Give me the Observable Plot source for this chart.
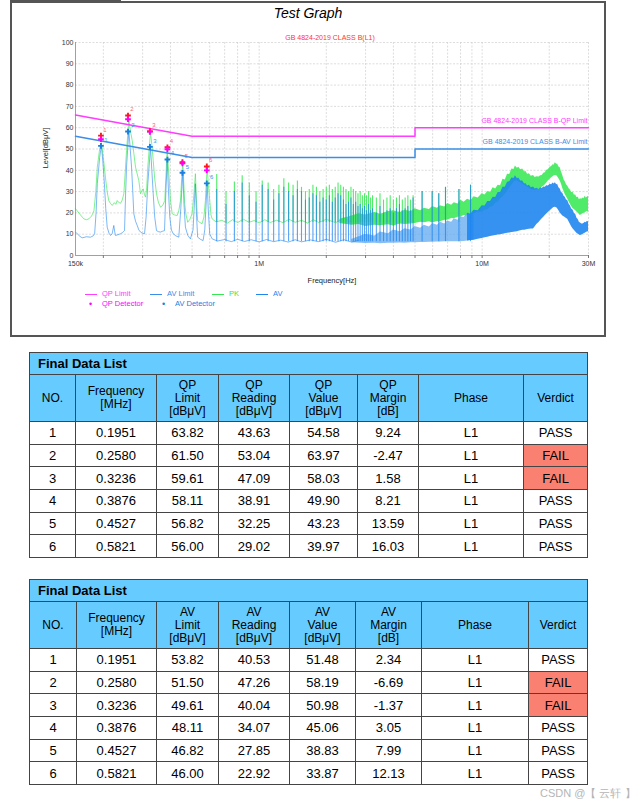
<!DOCTYPE html>
<html><head><meta charset="utf-8">
<script src="https://cdn.jsdelivr.net/npm/d3@7"></script>
<script src="https://cdn.jsdelivr.net/npm/@observablehq/plot@0.6"></script>
<style>
body{margin:0;background:#fff;font-family:Arial,"Liberation Sans",sans-serif;}
#page{position:relative;width:635px;height:805px;overflow:hidden;background:#fff;}
#tab{position:absolute;left:10px;top:-13px;width:111px;height:14px;border:1px solid #555;font-size:12px;line-height:14px;padding-left:6px;box-sizing:border-box;}
#frame{position:absolute;left:10px;top:1px;width:596px;height:336px;border:2px solid #555;box-sizing:border-box;}
#chart{position:absolute;left:0;top:0;}
.t{position:absolute;white-space:nowrap;}
.lg{position:absolute;font-size:7.5px;line-height:8px;white-space:nowrap;}
.ln{position:absolute;height:0;width:12px;border-top:1.2px solid;}
.dt{position:absolute;font-size:9px;line-height:8px;}
table.fd{position:absolute;left:29px;border-collapse:collapse;table-layout:fixed;width:558px;font-family:Arial,"Liberation Sans",sans-serif;color:#000;}
table.fd td{border:1px solid #444;text-align:center;padding:0;}
table.fd tr.ttl td{background:#66ccff;font-weight:bold;text-align:left;padding-left:8px;height:21px;font-size:13px;}
table.fd tr.hdr td{background:#66ccff;height:46px;font-size:12px;line-height:13px;}
table.fd tr.row td{height:21.7px;font-size:13px;}
table.fd td.fail{background:#fa8072;}
#wm{position:absolute;left:540px;top:786px;font-size:11px;color:#b5b5b5;white-space:nowrap;}
</style></head>
<body>
<div id="page">
  <div id="tab">Test Standard</div>
  <div id="frame"></div>
  <div id="chart"></div>
  <div class="t" style="left:0;width:616px;top:5px;text-align:center;font-size:14px;line-height:16px;font-style:italic;">Test Graph</div>
  <div class="t" style="left:230px;width:200px;top:34px;text-align:center;font-size:7px;line-height:8px;color:#ff3333;">GB 4824-2019 CLASS B(L1)</div>
  <div class="t" style="left:46px;top:148px;font-size:7.5px;line-height:8px;transform:translate(-50%,-50%) rotate(-90deg);color:#222;">Level[dBμV]</div>
  <div class="t" style="left:282px;width:100px;top:277px;text-align:center;font-size:7.5px;line-height:8px;color:#222;">Frequency[Hz]</div>
  <div id="legend"></div>
  <div id="tables"></div>
  <div id="wm">CSDN @【 云轩 】</div>
</div>
<script>
// ---------- chart data ----------
const yTicks = [0, 10, 20, 30, 40, 50, 60, 70, 80, 90, 100];
const xTickValues = [0.15, 1, 10, 30];
const xTickLabels = ["150k", "1M", "10M", "30M"];
const gridFreqs = [0.2, 0.3, 0.4, 0.5, 0.6, 0.7, 0.8, 0.9, 1, 2, 3, 4, 5, 6, 7, 8, 9, 10, 20, 30];

const limitFreq = [0.15, 0.5, 5, 5, 30];
const qpLimitLine = [66, 56, 56, 60, 60];
const avLimitLine = [56, 46, 46, 50, 50];
const qpLimitName = "GB 4824-2019 CLASS B-QP Limit";
const avLimitName = "GB 4824-2019 CLASS B-AV Limit";

const detNo = [1, 2, 3, 4, 5, 6];
const detFreq = [0.1951, 0.2580, 0.3236, 0.3876, 0.4527, 0.5821];
const pkMarker = [56.3, 65.7, 58.4, 50.8, 43.8, 41.8];

// PK (green) trace, low band  [MHz, dBuV]
const pkLow = [[0.150,22],[0.1526,21],[0.158,19],[0.1634,17.2],[0.168,16.8],[0.1722,17.2],[0.177,18.5],[0.1815,21],[0.185,30],[0.1879,41.5],[0.1925,50],[0.196,53],[0.200,46],[0.2043,36.8],[0.208,30],[0.2115,25.8],[0.215,24.5],[0.2192,23.5],[0.224,24.8],[0.2275,24],[0.2307,25.8],[0.234,25],[0.2388,24.5],[0.243,26],[0.2471,29],[0.251,40],[0.2541,49.3],[0.2602,63.5],[0.265,58],[0.2695,54],[0.274,48],[0.2788,41.5],[0.2885,35.2],[0.2936,29],[0.298,30.5],[0.3019,31.3],[0.306,28.5],[0.3092,27.4],[0.313,32],[0.3166,41.5],[0.3255,58],[0.330,52],[0.3347,44.6],[0.340,36],[0.3463,29],[0.353,25],[0.3609,22.7],[0.369,23.5],[0.3773,25.8],[0.382,38],[0.3867,50],[0.391,42],[0.396,33.7],[0.400,26],[0.4072,19.6],[0.418,19],[0.4289,18.8],[0.436,21],[0.4436,25.8],[0.449,36],[0.4543,43.8],[0.459,34],[0.4635,24.3],[0.470,19],[0.4779,15.6],[0.489,17],[0.5001,19.6],[0.509,28],[0.5175,38.4],[0.523,26],[0.5296,16.4],[0.542,15.5],[0.5545,14.9],[0.565,18],[0.5738,25.8],[0.5841,41.5],[0.592,33],[0.600,25.8],[0.608,19],[0.6151,17.2],[0.64,15.8],[0.68,16.5],[0.72,15.2],[0.76,16.8],[0.80,15.5],[0.85,17],[0.90,15.6],[0.95,16.4],[1.0,15.3],[1.06,16.8],[1.12,15.5],[1.2,16.6],[1.28,15.4],[1.36,17],[1.45,15.6],[1.55,16.5],[1.65,15.2],[1.75,16.8],[1.85,15.5],[2.0,17],[2.2,15.4],[2.4,17.5],[2.6,15.6]];

// AV (blue) trace, low band
const avLow = [[0.150,11],[0.1526,10.2],[0.157,9],[0.1607,8.3],[0.168,8.8],[0.1751,8.6],[0.180,9.2],[0.1828,10.2],[0.1855,20],[0.1879,33.7],[0.1925,46],[0.196,51.6],[0.199,44],[0.2022,33.7],[0.205,22],[0.2081,13.3],[0.212,10.5],[0.2154,9.4],[0.219,10.2],[0.2228,14.1],[0.225,11],[0.2268,9.4],[0.233,9.8],[0.2388,10.2],[0.244,10.8],[0.2489,11.7],[0.2515,28],[0.2541,41.5],[0.2602,58.7],[0.264,50],[0.2676,41.5],[0.271,30],[0.2739,19.6],[0.279,16],[0.2837,14.1],[0.2885,12],[0.2936,11],[0.300,10.4],[0.306,10.2],[0.311,18],[0.3166,33.7],[0.3255,50.8],[0.330,40],[0.3347,29],[0.340,18],[0.3463,11.7],[0.353,11.2],[0.3609,11],[0.369,11.4],[0.3761,11.7],[0.3815,30],[0.3867,44.6],[0.392,30],[0.3972,18],[0.404,12],[0.4115,10.2],[0.423,9.2],[0.436,8.6],[0.445,22],[0.4543,39.1],[0.460,24],[0.4668,13.3],[0.478,9.5],[0.4914,7.8],[0.505,12],[0.5175,33.7],[0.524,18],[0.5296,8.6],[0.545,7.6],[0.5603,7],[0.570,12],[0.5841,33.7],[0.592,20],[0.600,10.2],[0.6151,7.8],[0.65,6.8],[0.70,7.5],[0.75,6.5],[0.80,7.6],[0.86,6.6],[0.92,7.4],[1.0,6.4],[1.08,7.5],[1.16,6.5],[1.25,7.2],[1.35,6.3],[1.45,7.4],[1.55,6.4],[1.7,7.3],[1.85,6.5],[2.0,7.6],[2.2,6.2],[2.4,7.4],[2.6,6.3],[2.8,7.2]];

// harmonic spikes above 0.6 MHz
const spikeFreq = [0.645,0.710,0.774,0.839,0.903,0.968,1.032,1.097,1.161,1.226,1.290,1.355,1.419,1.484,1.548,1.613,1.677,1.742,1.806,1.871,1.935,2.000,2.064,2.129,2.193,2.258,2.322,2.387,2.451,2.516,2.580,2.645,2.709,2.774,2.838,2.903,2.967,3.032,3.096,3.161,3.225,3.354,3.483,3.612,3.741,3.870,3.999,4.128,4.257,4.386,4.515,4.644,4.773,4.902,5.38,5.97,6.39,6.85,7.87,8.87];
const spikePk = [38,30,34.5,37.5,34,30,35,34,31,33, 36,34,33,35,32,30,31,33,32,30, 31,32,33,31,32,34,33,32,31,30, 32,31,30,29,30,28,29,28,30,27,28, 27,29,26,27,28,26,27,28,26,27,28,26,28, 30,30,29,32,31,33];
const spikeAv = [31,24,30,34,28,25,33,31,26,29, 32,30,28,31,30,26,27,29,28,25, 27,26,28,25,27,29,28,26,24,25, 27,24,25,23,24,22,23,21,24,21,22, 20,23,20,21,22,20,22,24,21,22,23,21,27, 30,30,29,32,31,33];
const pkNoiseFloor = 15.5;
const avNoiseFloor = 6.5;

// dense high-frequency bands [MHz, low, high]
const pkBand = [[2.3,15,17],[2.6,14.2,18.6],[2.8,14.6,19.6],[3.0,13.6,19],[3.3,14.2,20.2],[3.5,14,19.4],[3.8,14.4,20.6],[4.0,13.8,21],[4.3,14.8,20.2],[4.5,14.6,21.2],[4.8,14.8,20.6],[5.0,15,22],[5.3,15.6,21],[5.5,15.4,22.2],[5.8,15.8,21.6],[6.0,15.2,23],[6.3,16,22.2],[6.5,15.8,23.4],[6.8,16.6,22.8],[7.0,16.5,24.4],[7.3,17.4,23.6],[7.5,17.2,24.8],[7.8,18,24.2],[8.0,18,26],[8.3,18.8,25],[8.6,18.6,26.4],[8.9,19.4,25.8],[9.2,19.5,27.6],[9.6,20.4,27],[10.0,20.3,29],[10.3,21.2,28.4],[10.6,21.5,30],[10.9,22.6,29.6],[11.2,23,31.8],[11.5,24.4,31.2],[11.8,25,33],[12.1,26.5,32.8],[12.4,27.5,35.8],[12.7,28.8,35.4],[13.0,30,38.2],[13.3,31.8,38],[13.6,33,40.6],[13.9,34.4,40.4],[14.1,35,42],[14.4,35,41],[14.6,34.5,41.4],[14.9,34,40.2],[15.2,33.5,40.6],[15.5,33,39.2],[15.7,32.5,39.6],[16.0,32,38.2],[16.3,31.5,38.4],[16.6,31,37.2],[17.0,30.5,37.6],[17.3,30.6,36.6],[17.6,30.8,37],[18.0,31,36.8],[18.3,31.3,37.4],[18.6,32,37.6],[18.9,32.5,38.6],[19.2,33.2,38.8],[19.5,34,40],[19.8,35,40.2],[20.2,35.8,41.4],[20.5,36.5,41.8],[20.8,37,42.6],[21.0,37.3,42.4],[21.3,37.6,43.6],[21.6,37.4,42.8],[21.8,37,43],[22.1,36,41.6],[22.4,35,41.2],[22.7,33.5,39.2],[23.0,31.5,37.6],[23.3,30,35.6],[23.6,28.5,34.6],[23.9,27.6,33.2],[24.2,26.5,32.6],[24.6,25,31.2],[24.9,24,30.8],[25.2,23,29.6],[25.6,22,29.6],[25.9,21.6,28.4],[26.3,21,28.4],[26.6,20.4,27.2],[27.0,19.8,27.4],[27.3,19.2,26.2],[27.6,18.8,26.6],[28.0,19.2,26.4],[28.3,19.6,27],[28.6,19.8,26.6],[29.0,20,27.8],[29.3,20.4,27],[29.6,20.6,27.4],[30,20.3,27.8]];
const avBand = [[2.6,6,7.5],[3.0,5.6,10],[3.3,5.8,9.2],[3.5,5.5,11],[3.8,5.8,10.2],[4.0,5.7,12],[4.3,5.9,11.2],[4.5,5.8,12.6],[4.8,6,12],[5.0,6,13.6],[5.3,6.1,12.8],[5.5,6.1,14.2],[5.8,6.2,13.4],[6.0,6.2,15],[6.3,6.3,14.2],[6.5,6.3,15.6],[6.8,6.4,14.8],[7.0,6.4,16.2],[7.3,6.5,15.6],[7.5,6.5,17.2],[7.8,6.5,16.6],[8.0,6.5,18.2],[8.3,6.6,17.8],[8.6,6.8,19.8],[8.9,7,19.4],[9.2,7.2,21.2],[9.6,7.6,21],[10.0,8,23.4],[10.3,8.3,23.2],[10.6,8.6,25.4],[10.9,8.9,25.4],[11.2,9.2,27.4],[11.5,9.4,27.2],[11.8,9.6,29.6],[12.1,9.8,29.6],[12.4,10,32],[12.7,10.2,32],[13.0,10.4,34.4],[13.3,10.6,34.6],[13.6,10.8,36.4],[13.9,10.9,36.2],[14.1,11,37.4],[14.4,11.2,36],[14.6,11.4,36.4],[14.9,11.6,35],[15.2,11.8,35],[15.5,11.9,33.6],[15.7,12,33.8],[16.0,12.2,32.6],[16.3,12.3,33],[16.6,12.4,31.8],[17.0,12.5,32.2],[17.3,13.5,31.2],[17.6,14.5,31.6],[18.0,15.5,31],[18.3,16.4,31.8],[18.6,17.2,31.4],[18.9,18,32.2],[19.2,18.8,32],[19.5,19.5,32.8],[19.8,20.2,32.6],[20.2,21,33.4],[20.5,21.6,33.2],[20.8,22.2,34],[21.0,22.5,33.6],[21.3,22.7,34.2],[21.6,22.4,33.2],[21.8,22,33.4],[22.1,21,31.8],[22.4,20,31.2],[22.7,19.2,29.6],[23.0,18.6,29.2],[23.3,18.2,27.8],[23.6,17.8,27.4],[23.9,17.4,26],[24.2,17,25.8],[24.6,15.6,24],[24.9,14.5,23.2],[25.2,13.5,21.8],[25.6,12.5,21.2],[25.9,11.8,19.8],[26.3,11,19.2],[26.6,10.5,17.6],[27.0,10,16.8],[27.3,9.6,15.6],[27.6,9.4,15.2],[28.0,9.6,14.8],[28.3,9.8,14.8],[28.6,10.2,15],[29.0,10.5,15.6],[29.3,10.8,15.4],[29.6,11,16],[30,11.2,15.8]];

// ---------- table data ----------
const tblNo = [1, 2, 3, 4, 5, 6];
const tblFreq = ["0.1951", "0.2580", "0.3236", "0.3876", "0.4527", "0.5821"];
const qpLimit = [63.82, 61.50, 59.61, 58.11, 56.82, 56.00];
const qpReading = [43.63, 53.04, 47.09, 38.91, 32.25, 29.02];
const qpValue = [54.58, 63.97, 58.03, 49.90, 43.23, 39.97];
const qpMargin = [9.24, -2.47, 1.58, 8.21, 13.59, 16.03];
const qpVerdict = ["PASS", "FAIL", "FAIL", "PASS", "PASS", "PASS"];
const avLimit = [53.82, 51.50, 49.61, 48.11, 46.82, 46.00];
const avReading = [40.53, 47.26, 40.04, 34.07, 27.85, 22.92];
const avValue = [51.48, 58.19, 50.98, 45.06, 38.83, 33.87];
const avMargin = [2.34, -6.69, -1.37, 3.05, 7.99, 12.13];
const avVerdict = ["PASS", "FAIL", "FAIL", "PASS", "PASS", "PASS"];
const phase = ["L1", "L1", "L1", "L1", "L1", "L1"];

// ---------- build chart ----------
const C = {qp:"#ff3cff", avl:"#3a8ee8", pk:"#33e850", av:"#1f86f0", avLight:"#5fa8f0", red:"#ff1a1a", mag:"#ff00ff", avm:"#1a7fe0"};
const limits = limitFreq.map((f, i) => ({f, qp: qpLimitLine[i], av: avLimitLine[i]}));
const dets = detFreq.map((f, i) => ({f, n: detNo[i], pk: pkMarker[i], qp: qpValue[i], av: avValue[i]}));
const spikes = spikeFreq.map((f, i) => ({f, pk: spikePk[i], av: spikeAv[i]}));
const lastLimit = [limits[limits.length - 1]];
const tickLabel = new Map(xTickValues.map((v, i) => [v, xTickLabels[i]]));
const avBandLow = avBand.filter(d => d[0] <= 9.2);
const avBandHigh = avBand.filter(d => d[0] >= 8.6);

const chart = Plot.plot({
  width: 635, height: 340,
  marginLeft: 75, marginRight: 47, marginTop: 42, marginBottom: 85,
  style: {background: "transparent", fontFamily: "Arial, 'Liberation Sans', sans-serif", fontSize: "7px", color: "#333", overflow: "visible"},
  x: {type: "log", domain: [0.15, 30], label: null},
  y: {domain: [0, 100], label: null},
  marks: [
    Plot.ruleX(gridFreqs, {stroke: "#cfcfcf", strokeDasharray: "2,1.5", strokeWidth: 0.7}),
    Plot.ruleY(yTicks.filter(d => d > 0), {stroke: "#cfcfcf", strokeDasharray: "2,1.5", strokeWidth: 0.7}),
    // PK (green)
    Plot.areaY(pkBand, {x: d => d[0], y1: d => d[1], y2: d => d[2], fill: C.pk, fillOpacity: 0.85}),
    Plot.ruleX(spikes, {x: "f", y1: pkNoiseFloor, y2: "pk", stroke: C.pk, strokeWidth: 1.1, strokeOpacity: 0.85}),
    Plot.line(pkLow, {x: d => d[0], y: d => d[1], stroke: C.pk, strokeWidth: 0.9, strokeOpacity: 0.7}),
    // AV (blue)
    Plot.areaY(avBandLow, {x: d => d[0], y1: d => d[1], y2: d => d[2], fill: C.avLight, fillOpacity: 0.75}),
    Plot.areaY(avBandHigh, {x: d => d[0], y1: d => d[1], y2: d => d[2], fill: C.av, fillOpacity: 0.9}),
    Plot.ruleX(spikes, {x: "f", y1: avNoiseFloor, y2: "av", stroke: C.av, strokeWidth: 1.1, strokeOpacity: 0.75}),
    Plot.line(avLow, {x: d => d[0], y: d => d[1], stroke: C.av, strokeWidth: 0.9, strokeOpacity: 0.65}),
    // limits
    Plot.line(limits, {x: "f", y: "qp", stroke: C.qp, strokeWidth: 1.5}),
    Plot.line(limits, {x: "f", y: "av", stroke: C.avl, strokeWidth: 1.5}),
    Plot.text(lastLimit, {x: "f", y: "qp", text: () => qpLimitName, textAnchor: "end", dx: -1, dy: -7, fill: C.qp, fontSize: 7}),
    Plot.text(lastLimit, {x: "f", y: "av", text: () => avLimitName, textAnchor: "end", dx: -1, dy: -7.5, fill: C.avl, fontSize: 7}),
    // axes
    Plot.ruleX([0.15], {stroke: "#888", strokeWidth: 0.8}),
    Plot.ruleY([0], {stroke: "#888", strokeWidth: 0.8}),
    Plot.axisX({ticks: gridFreqs, tickSize: 3, tickFormat: () => "", stroke: "#777"}),
    Plot.axisX({ticks: xTickValues, tickSize: 0, tickPadding: 6, tickFormat: d => tickLabel.get(d), fill: "#333"}),
    Plot.axisY({ticks: yTicks, tickSize: 0, tickPadding: 2, fill: "#333"}),
    // detector markers
    Plot.dot(dets, {x: "f", y: "pk", symbol: "cross", r: 2.4, fill: C.red}),
    Plot.dot(dets, {x: "f", y: "qp", symbol: "cross", r: 2.4, fill: C.mag}),
    Plot.dot(dets, {x: "f", y: "av", symbol: "cross", r: 2.4, fill: C.avm}),
    Plot.text(dets, {x: "f", y: "pk", text: "n", dx: 4, dy: -6, fill: "#ff5c8a", fontSize: 6}),
    Plot.text(dets, {x: "f", y: "av", text: "n", dx: 5, dy: -6, fill: "#3c8ef0", fontSize: 6})
  ]
});
document.getElementById("chart").appendChild(chart);

// ---------- legend ----------
const legendItems = [
  {kind: "line", color: C.qp, label: "QP Limit", x: 85, y: 294},
  {kind: "line", color: C.avl, label: "AV Limit", x: 150, y: 294},
  {kind: "line", color: C.pk, label: "PK", x: 212, y: 294},
  {kind: "line", color: C.av, label: "AV", x: 256, y: 294},
  {kind: "dot", color: C.mag, label: "QP Detector", x: 85, y: 304},
  {kind: "dot", color: C.avm, label: "AV Detector", x: 158, y: 304}
];
const lg = document.getElementById("legend");
for (const it of legendItems) {
  if (it.kind === "line") {
    const l = document.createElement("div"); l.className = "ln";
    l.style.left = it.x + "px"; l.style.top = it.y + "px"; l.style.borderTopColor = it.color; lg.appendChild(l);
  } else {
    const d = document.createElement("div"); d.className = "dt"; d.textContent = "•";
    d.style.left = (it.x + 4) + "px"; d.style.top = (it.y - 4) + "px"; d.style.color = it.color; lg.appendChild(d);
  }
  const t = document.createElement("div"); t.className = "lg"; t.textContent = it.label;
  t.style.left = (it.x + 17) + "px"; t.style.top = (it.y - 4) + "px"; t.style.color = it.color;
  lg.appendChild(t);
}

// ---------- tables ----------
function buildTable(top, pre, lim, rd, val, mar, ver, widths) {
  const t = document.createElement("table"); t.className = "fd"; t.style.top = top + "px";
  const cg = document.createElement("colgroup");
  widths.forEach(w => { const c = document.createElement("col"); c.style.width = w + "px"; cg.appendChild(c); });
  t.appendChild(cg);
  let h = `<tr class="ttl"><td colspan="8">Final Data List</td></tr>`;
  h += `<tr class="hdr"><td>NO.</td><td>Frequency<br>[MHz]</td><td>${pre}<br>Limit<br>[dBμV]</td><td>${pre}<br>Reading<br>[dBμV]</td><td>${pre}<br>Value<br>[dBμV]</td><td>${pre}<br>Margin<br>[dB]</td><td>Phase</td><td>Verdict</td></tr>`;
  tblNo.forEach((n, i) => {
    h += `<tr class="row"><td>${n}</td><td>${tblFreq[i]}</td><td>${lim[i].toFixed(2)}</td><td>${rd[i].toFixed(2)}</td><td>${val[i].toFixed(2)}</td><td>${mar[i].toFixed(2)}</td><td>${phase[i]}</td><td class="${ver[i] === "FAIL" ? "fail" : ""}">${ver[i]}</td></tr>`;
  });
  t.insertAdjacentHTML("beforeend", h);
  document.getElementById("tables").appendChild(t);
}
buildTable(352, "QP", qpLimit, qpReading, qpValue, qpMargin, qpVerdict, [46, 81, 62, 71, 68, 61, 105, 64]);
buildTable(579, "AV", avLimit, avReading, avValue, avMargin, avVerdict, [47, 80, 62, 71, 66, 66, 107, 59]);
</script>
</body></html>
